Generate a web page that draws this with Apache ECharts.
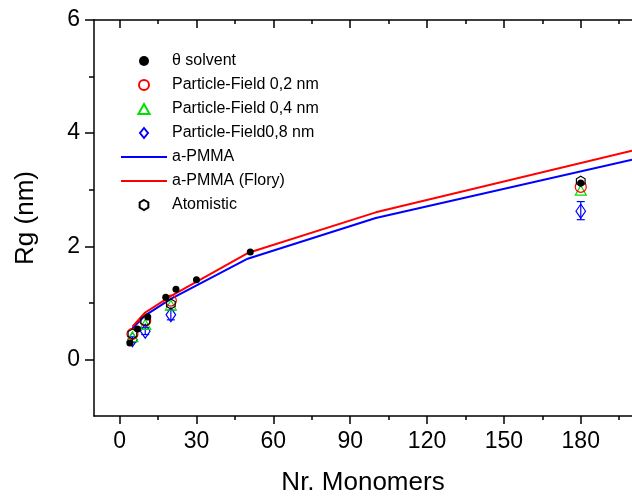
<!DOCTYPE html>
<html>
<head>
<meta charset="utf-8">
<script src="https://cdn.jsdelivr.net/npm/echarts@6/dist/echarts.min.js"></script>
<style>html,body{margin:0;padding:0;background:#fff;}#c{width:632px;height:501px;}</style>
</head>
<body>
<div id="c"></div>
<script>
// ---- data ----
const thetaX = [4, 7, 11, 18, 22, 30, 51, 180];
const thetaY = [0.29, 0.54, 0.75, 1.10, 1.24, 1.41, 1.90, 3.12];
const pfX = [5, 10, 20, 180];
const pf02Y = [0.45, 0.69, 1.04, 3.05];
const pf04Y = [0.40, 0.62, 0.96, 2.99];
const pf08Y = [0.35, 0.50, 0.79, 2.62];
const pf08Lo = [0.30, 0.44, 0.70, 2.47];
const pf08Hi = [0.40, 0.56, 0.87, 2.79];
const atomX = [5, 10, 20, 180];
const atomY = [0.45, 0.68, 0.98, 3.15];
const lineX = [5, 10, 20, 50, 100, 200];
const pmmaY = [0.55, 0.78, 1.07, 1.78, 2.50, 3.53];
const floryY = [0.58, 0.83, 1.12, 1.88, 2.60, 3.69];
const xTicks = [0, 30, 60, 90, 120, 150, 180];
const xMinorTicks = [15, 45, 75, 105, 135, 165, 195];
const yTicks = [0, 2, 4, 6];
const yMinorTicks = [1, 3, 5];

const zip = (xs, ys) => xs.map((x, i) => [x, ys[i]]);
const FONT = 'Liberation Sans, Arial, sans-serif';
const hexPath = 'path://M0,-1L0.866,-0.5L0.866,0.5L0,1L-0.866,0.5L-0.866,-0.5Z';
const triPath = 'path://M0,-1L0.95,0.7L-0.95,0.7Z';
const diaPath = 'path://M0,-1L0.8,0L0,1L-0.8,0Z';

const chart = echarts.init(document.getElementById('c'), null, {renderer: 'canvas'});

function errRender(params, api) {
  const x = api.value(0), lo = api.value(1), hi = api.value(2);
  const a = api.coord([x, lo]), b = api.coord([x, hi]);
  const st = {stroke: '#0000ff', lineWidth: 1.2};
  const w = 4;
  return {type: 'group', children: [
    {type: 'line', shape: {x1: a[0], y1: a[1], x2: b[0], y2: b[1]}, style: st},
    {type: 'line', shape: {x1: a[0]-w, y1: a[1], x2: a[0]+w, y2: a[1]}, style: st},
    {type: 'line', shape: {x1: b[0]-w, y1: b[1], x2: b[0]+w, y2: b[1]}, style: st}
  ]};
}

const xBase = {type: 'value', min: -10, max: 200, splitLine: {show: false}};
const option = {
  animation: false,
  backgroundColor: '#fff',
  grid: {left: 94, top: 20, right: -9, bottom: 81, containLabel: false},
  xAxis: [
    Object.assign({}, xBase, {
      position: 'bottom', name: 'Nr. Monomers', nameLocation: 'middle', nameGap: 54,
      nameTextStyle: {fontFamily: FONT, fontSize: 26, color: '#000'},
      axisLine: {show: true, onZero: false, lineStyle: {color: '#000', width: 1.5}},
      axisTick: {show: true, inside: false, length: 8, customValues: xTicks, lineStyle: {color: '#000', width: 1.5}},
      axisLabel: {show: true, customValues: xTicks, margin: 14, fontFamily: FONT, fontSize: 23, color: '#000'}
    }),
    Object.assign({}, xBase, {
      position: 'top',
      axisLine: {show: true, onZero: false, lineStyle: {color: '#000', width: 1.5}},
      axisTick: {show: true, inside: true, length: 8, customValues: xTicks, lineStyle: {color: '#000', width: 1.5}},
      axisLabel: {show: false}
    }),
    Object.assign({}, xBase, {
      position: 'bottom',
      axisLine: {show: false, onZero: false},
      axisTick: {show: true, inside: false, length: 4, customValues: xMinorTicks, lineStyle: {color: '#000', width: 1.5}},
      axisLabel: {show: false}
    }),
    Object.assign({}, xBase, {
      position: 'top',
      axisLine: {show: false, onZero: false},
      axisTick: {show: true, inside: true, length: 4, customValues: xMinorTicks, lineStyle: {color: '#000', width: 1.5}},
      axisLabel: {show: false}
    })
  ],
  yAxis: [
    {
      type: 'value', min: -1, max: 6, position: 'left', splitLine: {show: false},
      name: 'Rg (nm)', nameLocation: 'middle', nameGap: 55, nameRotate: 90,
      nameTextStyle: {fontFamily: FONT, fontSize: 26, color: '#000'},
      axisLine: {show: true, onZero: false, lineStyle: {color: '#000', width: 1.5}},
      axisTick: {show: true, inside: false, length: 9, customValues: yTicks, lineStyle: {color: '#000', width: 1.5}},
      axisLabel: {show: true, customValues: yTicks, margin: 14, fontFamily: FONT, fontSize: 23, color: '#000'}
    },
    {
      type: 'value', min: -1, max: 6, position: 'left', splitLine: {show: false},
      axisLine: {show: false, onZero: false},
      axisTick: {show: true, inside: false, length: 5, customValues: yMinorTicks, lineStyle: {color: '#000', width: 1.5}},
      axisLabel: {show: false}
    }
  ],
  legend: {
    orient: 'vertical', left: 115, top: 48,
    itemWidth: 46, itemHeight: 10, itemGap: 8,
    textStyle: {fontFamily: FONT, fontSize: 16, color: '#000'},
    data: [
      {name: '\u03b8 solvent', icon: 'path://M0,-1A1,1,0,1,1,0,1A1,1,0,1,1,0,-1Z', itemStyle: {borderWidth: 0}},
      {name: 'Particle-Field 0,2 nm'},
      {name: 'Particle-Field 0,4 nm'},
      {name: 'Particle-Field0,8 nm'},
      {name: 'a-PMMA', itemStyle: {opacity: 0}},
      {name: 'a-PMMA (Flory)', itemStyle: {opacity: 0}},
      {name: 'Atomistic'}
    ]
  },
  series: [
    {name: 'a-PMMA', type: 'line', data: zip(lineX, pmmaY), symbol: 'none', lineStyle: {color: '#0000ff', width: 2}, itemStyle: {color: '#0000ff'}, z: 2},
    {name: 'a-PMMA (Flory)', type: 'line', data: zip(lineX, floryY), symbol: 'none', lineStyle: {color: '#ff0000', width: 2}, itemStyle: {color: '#ff0000'}, z: 2},
    {name: 'pf08err', type: 'custom', renderItem: errRender, data: pfX.map((x, i) => [x, pf08Lo[i], pf08Hi[i]]), z: 3},
    {name: 'Particle-Field0,8 nm', type: 'scatter', data: zip(pfX, pf08Y), symbol: diaPath, symbolSize: [12, 14], symbolKeepAspect: true,
      itemStyle: {color: 'rgba(0,0,0,0)', borderColor: '#0000ff', borderWidth: 1.2, opacity: 1}, z: 4},
    {name: 'Particle-Field 0,4 nm', type: 'scatter', data: zip(pfX, pf04Y), symbol: triPath, symbolSize: 11, symbolKeepAspect: true,
      itemStyle: {color: 'rgba(0,0,0,0)', borderColor: '#00e000', borderWidth: 1.2, opacity: 1}, z: 5},
    {name: 'Particle-Field 0,2 nm', type: 'scatter', data: zip(pfX, pf02Y), symbol: 'circle', symbolSize: 11,
      itemStyle: {color: 'rgba(0,0,0,0)', borderColor: '#ff0000', borderWidth: 1.2, opacity: 1}, z: 6},
    {name: 'Atomistic', type: 'scatter', data: zip(atomX, atomY), symbol: hexPath, symbolSize: 10, symbolKeepAspect: true,
      itemStyle: {color: 'rgba(0,0,0,0)', borderColor: '#000', borderWidth: 1.2, opacity: 1}, z: 7},
    {name: '\u03b8 solvent', type: 'scatter', data: zip(thetaX, thetaY), symbol: 'circle', symbolSize: 7,
      itemStyle: {color: '#000', opacity: 1}, z: 8}
  ]
};
chart.setOption(option);
</script>
</body>
</html>
